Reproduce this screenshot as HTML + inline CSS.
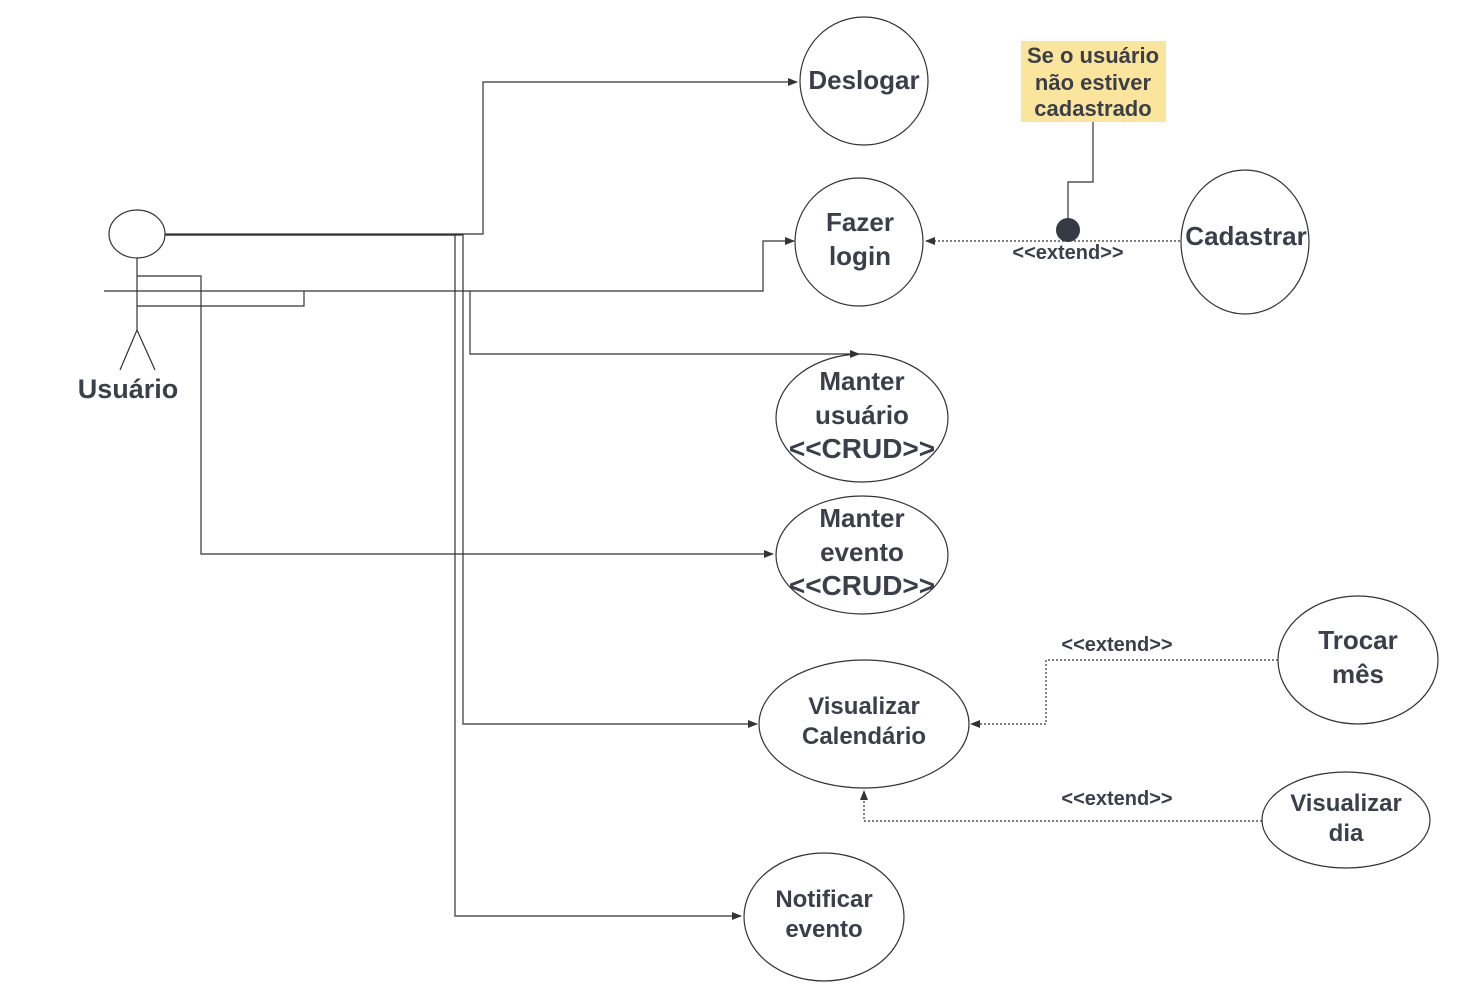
<!DOCTYPE html>
<html><head><meta charset="utf-8"><style>
html,body{margin:0;padding:0;background:#fff;}
svg{display:block;font-family:"Liberation Sans",sans-serif;font-weight:bold;fill:#3a3f4a;}
</style></head><body>
<svg width="1471" height="999" viewBox="0 0 1471 999" xmlns="http://www.w3.org/2000/svg">
<defs>
<marker id="a" markerWidth="10" markerHeight="8" refX="9" refY="4" orient="auto" markerUnits="userSpaceOnUse">
<path d="M0,0 L10,4 L0,8 Z" fill="#333"/></marker>
</defs>
<g fill="none" stroke="#333" stroke-width="1.2">
<ellipse cx="137" cy="234" rx="28" ry="24"/>
<line x1="137" y1="258" x2="137" y2="330"/>
<line x1="137" y1="330" x2="120" y2="370"/>
<line x1="137" y1="330" x2="155" y2="370"/>
<path d="M165,234 H483 V82 H797" marker-end="url(#a)"/>
<path d="M104,291 H763 V241 H794" marker-end="url(#a)"/>
<path d="M165,235 H455 V916 H741" marker-end="url(#a)"/>
<path d="M165,235 H463 V724 H757" marker-end="url(#a)"/>
<path d="M470,291 V354 H859" marker-end="url(#a)"/>
<path d="M137,276 H201 V554 H773" marker-end="url(#a)"/>
<path d="M137,306 H304 V291"/>
<ellipse cx="864" cy="81" rx="64" ry="64"/>
<ellipse cx="859" cy="242" rx="64" ry="64"/>
<ellipse cx="1245" cy="242" rx="64" ry="72"/>
<ellipse cx="862" cy="418" rx="86" ry="64"/>
<ellipse cx="862" cy="555" rx="86" ry="59"/>
<ellipse cx="864" cy="724" rx="105" ry="64"/>
<ellipse cx="1358" cy="660" rx="80" ry="64"/>
<ellipse cx="1346" cy="820" rx="84" ry="48"/>
<ellipse cx="824" cy="917" rx="80" ry="64"/>
<path d="M1180,241 H926" stroke-dasharray="2,2" marker-end="url(#a)"/>
<path d="M1278,660 H1046 V724 H971" stroke-dasharray="2,2" marker-end="url(#a)"/>
<path d="M1262,821 H864 V791" stroke-dasharray="2,2" marker-end="url(#a)"/>
<path d="M1093,122 V182 H1068 V230"/>
</g>
<rect x="1021" y="41" width="145" height="81" fill="#fbe59c"/>
<circle cx="1068" cy="230" r="12" fill="#353a44"/>
<g font-size="26" text-anchor="middle">
<text x="128" y="398" font-size="27">Usuário</text>
<text x="864" y="89">Deslogar</text>
<text x="860" y="231">Fazer</text>
<text x="860" y="265">login</text>
<text x="1246" y="245">Cadastrar</text>
<text x="862" y="390">Manter</text>
<text x="862" y="424">usuário</text>
<text x="862" y="458" font-size="28">&lt;&lt;CRUD&gt;&gt;</text>
<text x="862" y="527">Manter</text>
<text x="862" y="561">evento</text>
<text x="862" y="595" font-size="28">&lt;&lt;CRUD&gt;&gt;</text>
<text x="1358" y="649">Trocar</text>
<text x="1358" y="683">mês</text>
</g>
<g font-size="24" text-anchor="middle">
<text x="864" y="714">Visualizar</text>
<text x="864" y="744">Calendário</text>
<text x="1346" y="811">Visualizar</text>
<text x="1346" y="841">dia</text>
<text x="824" y="907">Notificar</text>
<text x="824" y="937">evento</text>
</g>
<g font-size="22" text-anchor="middle">
<text x="1093" y="63">Se o usuário</text>
<text x="1093" y="90">não estiver</text>
<text x="1093" y="116">cadastrado</text>
</g>
<g font-size="20" text-anchor="middle">
<text x="1068" y="259">&lt;&lt;extend&gt;&gt;</text>
<text x="1117" y="651">&lt;&lt;extend&gt;&gt;</text>
<text x="1117" y="805">&lt;&lt;extend&gt;&gt;</text>
</g>
</svg>
</body></html>
